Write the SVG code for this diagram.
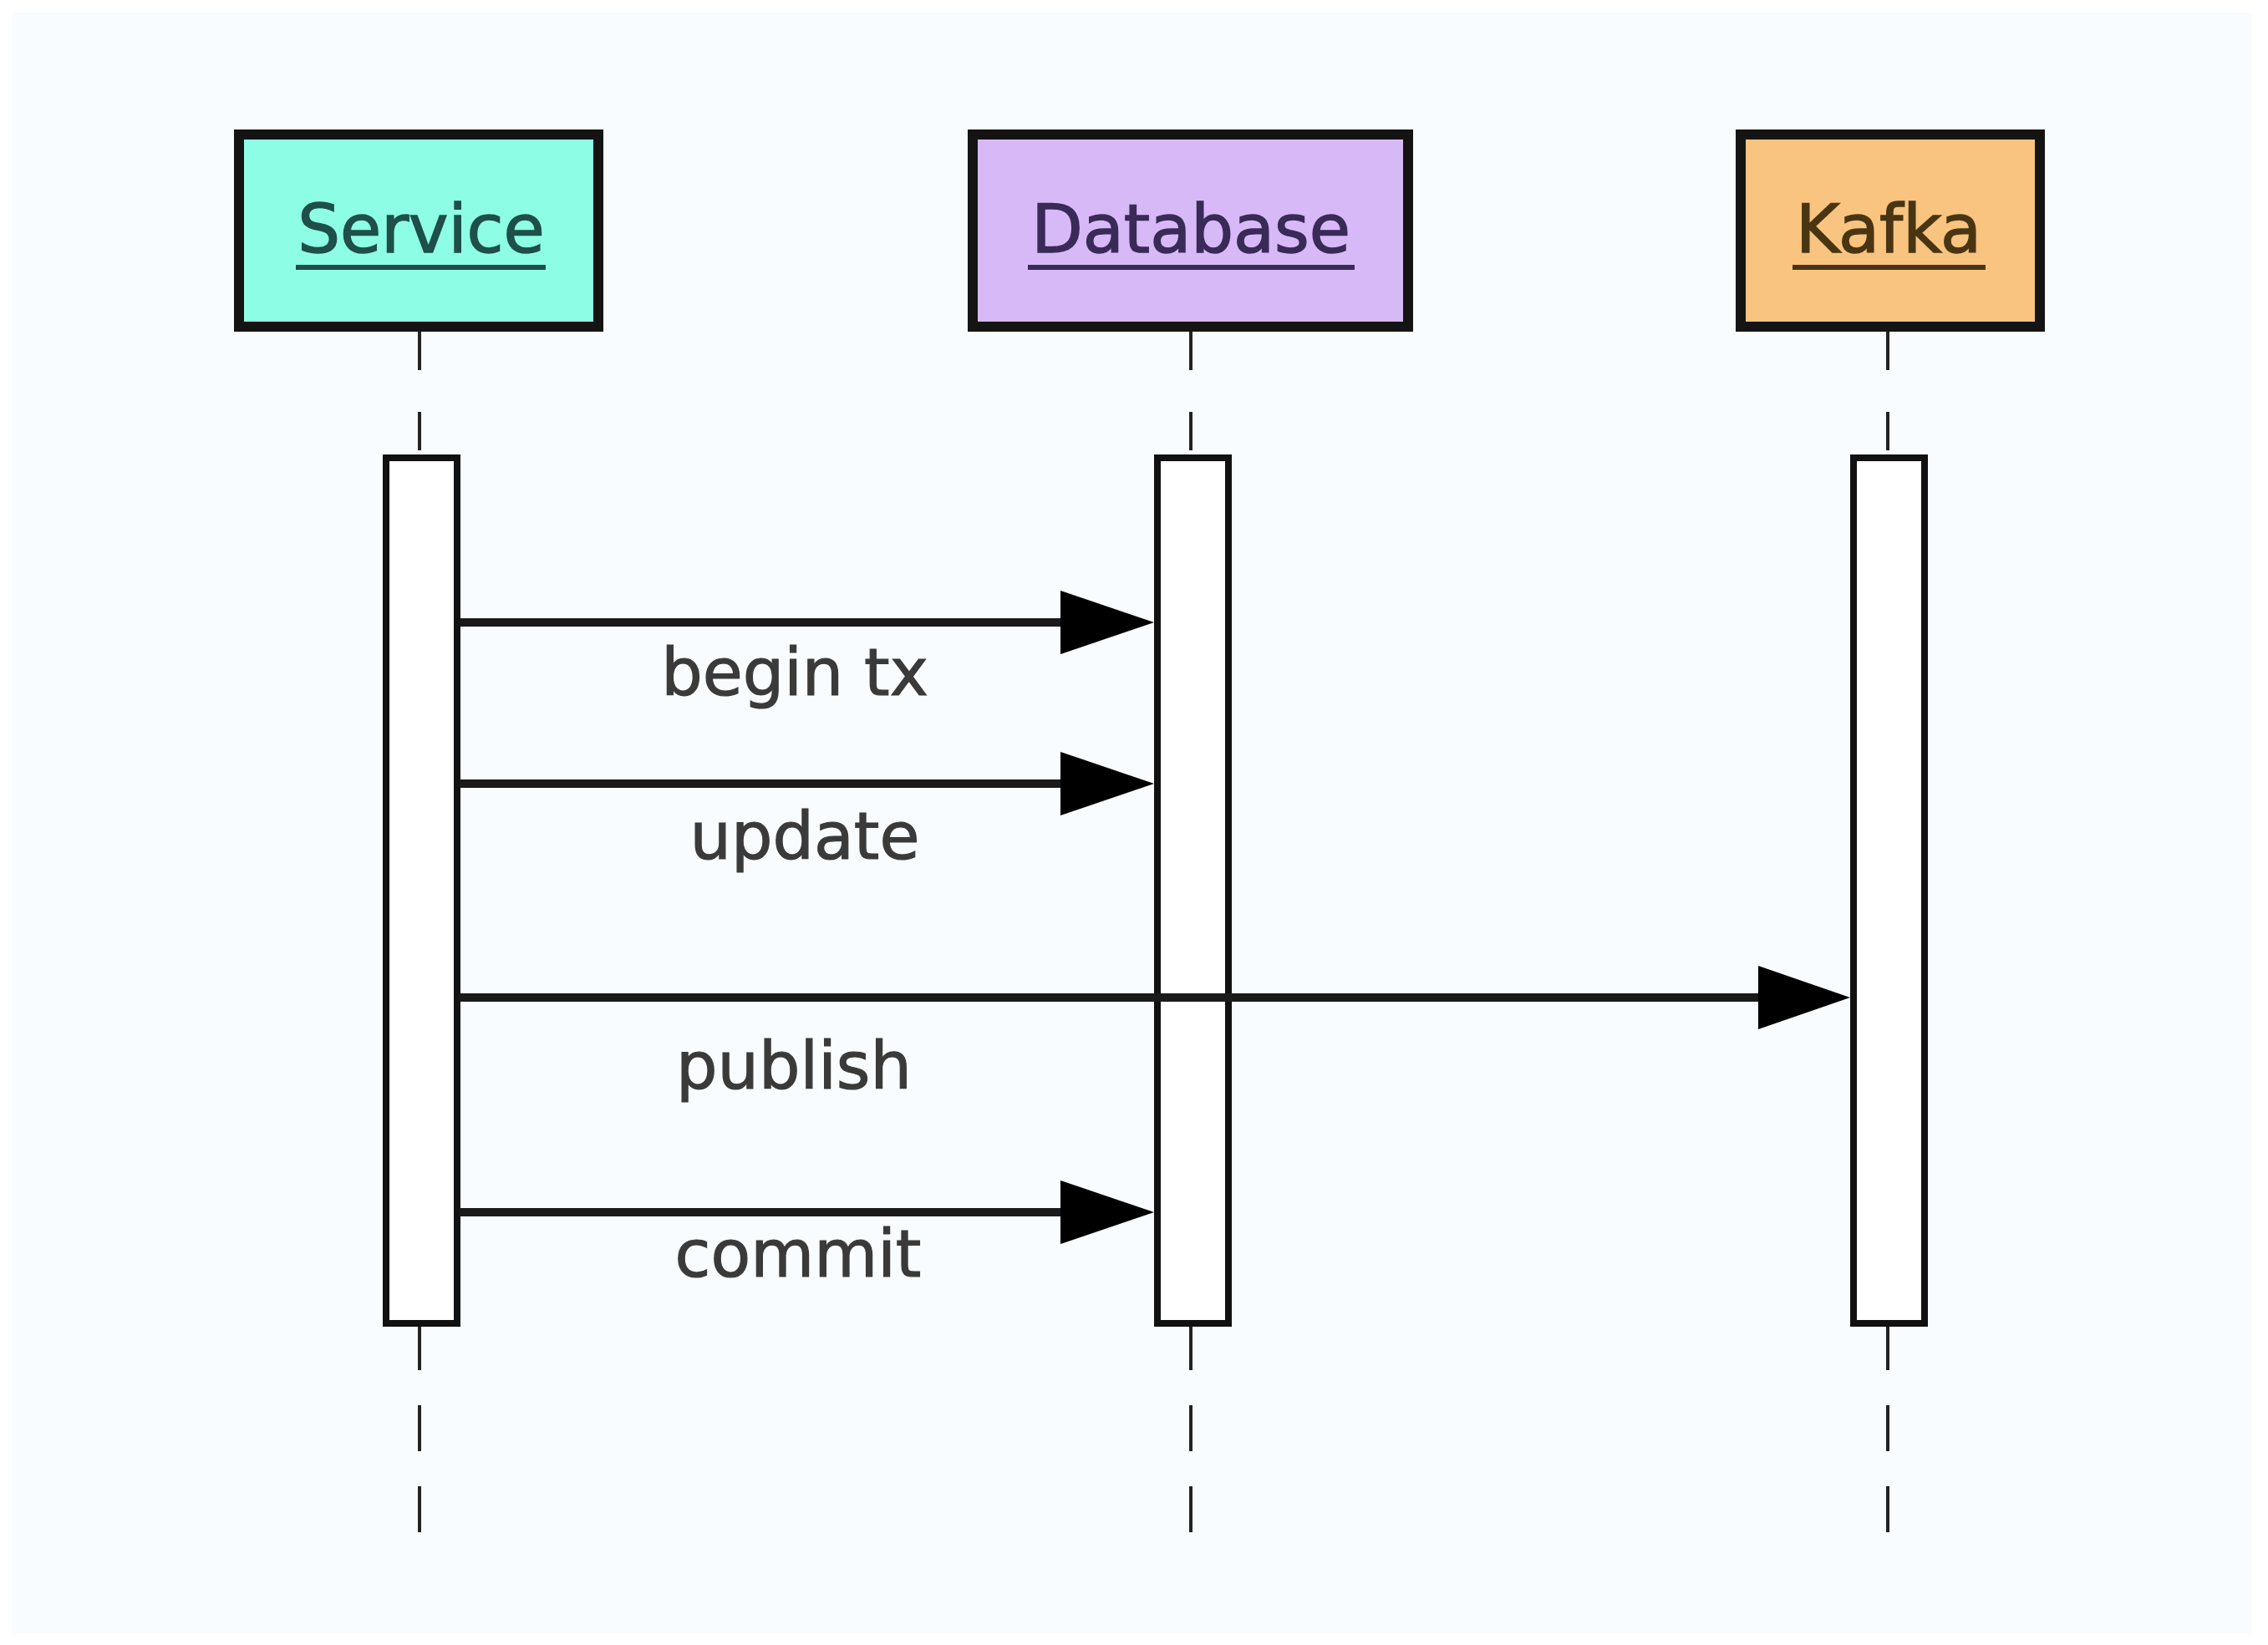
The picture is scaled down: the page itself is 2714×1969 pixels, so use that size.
<svg xmlns="http://www.w3.org/2000/svg" width="2714" height="1969" viewBox="0 0 2714 1969">
<style>
.head{stroke:#141414;stroke-width:12}
.title{font-family:"DejaVu Sans",sans-serif;font-size:80px;text-anchor:middle;stroke-width:1.5}
.act{fill:#ffffff;stroke:#111;stroke-width:8}
.life{stroke:#222;stroke-width:4;fill:none}
.msg{stroke:#1a1a1a;stroke-width:10;fill:none}
.lbl{font-family:"DejaVu Sans",sans-serif;font-size:78px;text-anchor:middle;fill:#3a3a3a;stroke:#3a3a3a;stroke-width:1.2}
</style>
<rect x="0" y="0" width="2714" height="1969" fill="#ffffff"/>
<rect x="15" y="15" width="2680" height="1940" fill="#f8fcfe"/>

<g id="lifelines">
<line class="life" x1="502" y1="397" x2="502" y2="545" stroke-dasharray="46 50"/>
<line class="life" x1="1425" y1="397" x2="1425" y2="545" stroke-dasharray="46 50"/>
<line class="life" x1="2259" y1="397" x2="2259" y2="545" stroke-dasharray="46 50"/>
<line class="life" x1="502" y1="1585" x2="502" y2="1836" stroke-dasharray="55 42"/>
<line class="life" x1="1425" y1="1585" x2="1425" y2="1836" stroke-dasharray="55 42"/>
<line class="life" x1="2259" y1="1585" x2="2259" y2="1836" stroke-dasharray="55 42"/>
</g>

<g id="service">
<rect class="head" x="286" y="161" width="430" height="230" fill="#8efde6"/>
<text class="title" x="504" y="302" fill="#1e4f48" stroke="#1e4f48">Service</text>
<rect x="354" y="317" width="299" height="6" fill="#1e4f48"/>
<rect class="act" x="462" y="548" width="85" height="1036"/>
</g>

<g id="database">
<rect class="head" x="1164" y="161" width="521" height="230" fill="#d8b9f8"/>
<text class="title" x="1425" y="302" fill="#3a2a58" stroke="#3a2a58">Database</text>
<rect x="1230" y="317" width="391" height="6" fill="#3a2a58"/>
<rect class="act" x="1385" y="548" width="85" height="1036"/>
</g>

<g id="kafka">
<rect class="head" x="2083" y="161" width="358" height="230" fill="#f8c47f"/>
<text class="title" x="2260" y="302" fill="#4a3512" stroke="#4a3512">Kafka</text>
<rect x="2145" y="317" width="231" height="6" fill="#4a3512"/>
<rect class="act" x="2218" y="548" width="85" height="1036"/>
</g>

<g id="connectors">
<line class="msg" x1="550" y1="745" x2="1275" y2="745"/>
<polygon points="1269,707 1381,745 1269,783" fill="#000"/>
<text class="lbl" x="951" y="832">begin tx</text>

<line class="msg" x1="550" y1="938" x2="1275" y2="938"/>
<polygon points="1269,900 1381,938 1269,976" fill="#000"/>
<text class="lbl" x="963" y="1028">update</text>

<line class="msg" x1="550" y1="1194" x2="2110" y2="1194"/>
<polygon points="2104,1156 2214,1194 2104,1232" fill="#000"/>
<text class="lbl" x="950" y="1303">publish</text>

<line class="msg" x1="550" y1="1451" x2="1275" y2="1451"/>
<polygon points="1269,1413 1381,1451 1269,1489" fill="#000"/>
<text class="lbl" x="955" y="1528">commit</text>
</g>
</svg>
